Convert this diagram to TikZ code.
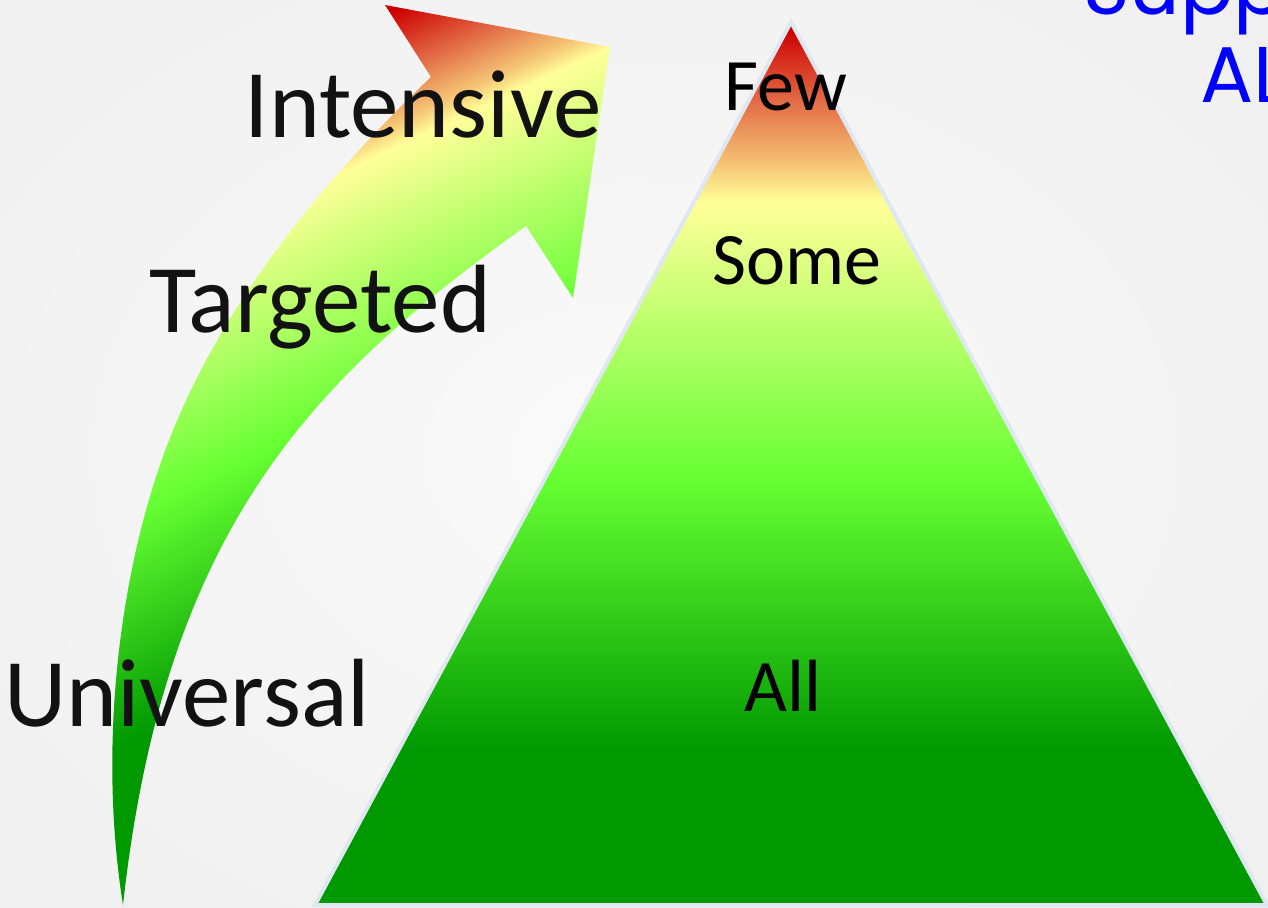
\documentclass[tikz,border=0pt]{standalone}
\usepackage{fontspec}
\setmainfont{Carlito}
\newfontfamily\bluefont{Poppins}
\definecolor{cR}{HTML}{CC0000}
\definecolor{cO2}{HTML}{E26A45}
\definecolor{cO1}{HTML}{F5C575}
\definecolor{cY}{HTML}{FFFF99}
\definecolor{cG2}{HTML}{66FF33}
\definecolor{cG3}{HTML}{009900}
\definecolor{bgin}{HTML}{FAFAFA}
\definecolor{bgout}{HTML}{F0F0F0}
\definecolor{tribord}{HTML}{DFE8F1}
\definecolor{txtcol}{HTML}{121212}
\definecolor{bluetxt}{HTML}{0000FF}
\pgfdeclareverticalshading{trishade}{100bp}{color(0bp)=(cG3); color(33.78bp)=(cG3); color(49.07bp)=(cG2); color(64.8bp)=(cY); color(66.9bp)=(cO1); color(70.58bp)=(cO2); color(74.55bp)=(cR); color(100bp)=(cR)}
\pgfdeclareverticalshading{arrowshade}{100bp}{color(0bp)=(cG3); color(36.71bp)=(cG3); color(50.75bp)=(cG2); color(65.89bp)=(cY); color(67.4bp)=(cO1); color(70.55bp)=(cO2); color(74.45bp)=(cR); color(100bp)=(cR)}
\def\arrowpath{(123,905) .. controls (100,760) and (115.6,603.9) .. (155,480) .. controls (203.5,327.5) and (308.6,194.3) .. (431,77) -- (385,5) -- (610,47) -- (573,298) -- (526,226) .. controls (315.4,376.8) and (164.8,525) .. (123,905) -- cycle}
\begin{document}
\begin{tikzpicture}[x=1pt,y=-1pt,
  bigtxt/.style={font=\fontsize{97}{100}\selectfont, text=txtcol, inner sep=0pt, anchor=base},
  smalltxt/.style={font=\fontsize{74}{76}\selectfont, text=black, inner sep=0pt, anchor=base},
  bluelabel/.style={font=\bluefont\fontsize{79}{80}\selectfont, text=bluetxt, inner sep=0pt, anchor=base west}]
\useasboundingbox (0,0) rectangle (1268,907);
\clip (0,0) rectangle (1268,907);
% background
\shade[inner color=bgin, outer color=bgout] (-200,-150) rectangle (1468,1057);
% pyramid
\shade[shading=trishade] (791,22) -- (1267,905) -- (315,905) -- cycle;
\draw[tribord, line width=4pt, line join=miter] (791,22) -- (1267,905) -- (315,905) -- cycle;
% curved arrow
\begin{scope}
  \clip \arrowpath;
  \begin{scope}[transform canvas={rotate around={25:(360,450)}}]
    \shade[shading=arrowshade] (-540,57.5) rectangle (1260,787.5);
  \end{scope}
\end{scope}
% labels
\node[bigtxt] (intensive) at (423,137) {Intensive};
\node[bigtxt] (targeted) at (320,332) {Targeted};
\node[bigtxt] (universal) at (187,726) {Universal};
\node[smalltxt] (few) at (786,110) {Few};
\node[smalltxt] (some) at (797,284) {Some};
\node[smalltxt] (all) at (783,711) {All};
\node[bluelabel] (support) at (1083,15) {Support};
\node[bluelabel] (allblue) at (1200,102) {ALL};
\end{tikzpicture}
\end{document}
